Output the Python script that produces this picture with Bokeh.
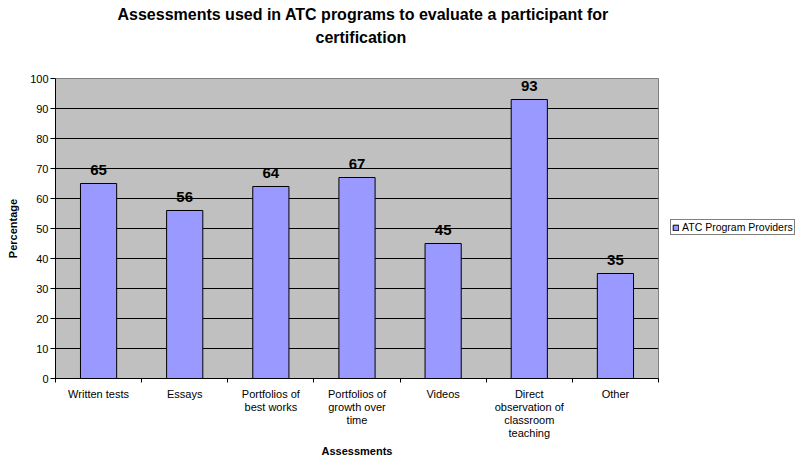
from bokeh.plotting import figure
from bokeh.layouts import row
from bokeh.models import Range1d, FixedTicker, Legend, LegendItem, Title, ColumnDataSource
from bokeh.embed import file_html
from bokeh.resources import INLINE

# ---- data ----
categories = [
    "Written tests",
    "Essays",
    "Portfolios of\nbest works",
    "Portfolios of\ngrowth over\ntime",
    "Videos",
    "Direct\nobservation of\nclassroom\nteaching",
    "Other",
]
values = [65, 56, 64, 67, 45, 93, 35]
value_labels = ["65", "56", "64", "67", "45", "93", "35"]
y_ticks = [0, 10, 20, 30, 40, 50, 60, 70, 80, 90, 100]
series_name = "ATC Program Providers"
title_line1 = "Assessments used in ATC programs to evaluate a participant for"
title_line2 = "certification"
x_title = "Assessments"
y_title = "Percentage"

FONT = "Liberation Sans"
BAR_FILL = "#9999FF"
n = len(categories)
xs = [i + 0.5 for i in range(n)]
src = ColumnDataSource(dict(x=xs, top=values, lab=value_labels))

p = figure(width=660, height=464, output_backend="svg", toolbar_location=None,
           x_range=Range1d(0, n), y_range=Range1d(y_ticks[0], y_ticks[-1]),
           min_border_left=55, min_border_right=2, min_border_top=78,
           min_border_bottom=86)

p.background_fill_color = "#C0C0C0"
p.border_fill_color = "white"
p.outline_line_color = "#808080"
p.outline_line_width = 1

# titles (spacer nearest the frame, then line 2, then line 1 outermost)
spacer = Title(text=" ", text_font=FONT, text_font_size="2px", standoff=27)
p.add_layout(spacer, "above")
t2 = Title(text=title_line2, text_font=FONT, text_font_size="16px",
           text_font_style="bold", text_color="black", align="left",
           offset=260, vertical_align="top", standoff=0)
p.add_layout(t2, "above")
p.title.text = title_line1
p.title.text_font = FONT
p.title.text_font_size = "16px"
p.title.text_font_style = "bold"
p.title.text_color = "black"
p.title.align = "left"
p.title.offset = 62
p.title.vertical_align = "top"
p.title.standoff = 7

bars = p.vbar(x="x", top="top", width=0.42, bottom=0, source=src,
              fill_color=BAR_FILL, line_color="black", line_width=1)

p.text(x="x", y="top", text="lab", source=src, text_align="center",
       text_baseline="alphabetic", y_offset=-14, text_font_size="15px",
       text_font_style="bold", text_font={"value": FONT}, text_color="black")

# grid
p.xgrid.visible = False
p.ygrid.ticker = FixedTicker(ticks=y_ticks[1:-1])
p.ygrid.grid_line_color = "black"
p.ygrid.grid_line_width = 1

# x axis
xa = p.xaxis[0]
xa.ticker = FixedTicker(ticks=xs, minor_ticks=list(range(n + 1)))
xa.major_label_overrides = {x: c for x, c in zip(xs, categories)}
xa.major_tick_in = 0
xa.major_tick_out = 0
xa.minor_tick_in = 0
xa.minor_tick_out = 4
xa.minor_tick_line_color = "black"
xa.axis_line_color = "black"
xa.major_label_text_font = FONT
xa.major_label_text_font_size = "11px"
xa.major_label_text_color = "black"
xa.major_label_text_line_height = 1.11
xa.major_label_standoff = 5
xa.axis_label = x_title
xa.axis_label_text_font = FONT
xa.axis_label_text_font_size = "11px"
xa.axis_label_text_font_style = "bold"
xa.axis_label_text_color = "black"
xa.axis_label_standoff = 3

# y axis
ya = p.yaxis[0]
ya.ticker = FixedTicker(ticks=y_ticks)
ya.major_tick_in = 0
ya.major_tick_out = 5
ya.minor_tick_line_color = None
ya.axis_line_color = "black"
ya.major_label_text_font = FONT
ya.major_label_text_font_size = "11px"
ya.major_label_text_color = "black"
ya.major_label_standoff = 2
ya.axis_label = y_title
ya.axis_label_text_font = FONT
ya.axis_label_text_font_size = "11px"
ya.axis_label_text_font_style = "bold"
ya.axis_label_text_color = "black"
ya.axis_label_standoff = 8

# legend panel (separate figure to the right of the chart; its frame is
# aligned with the chart's frame by the row layout)
lf = figure(width=143, height=464, output_backend="svg", toolbar_location=None,
            x_range=Range1d(-10, -9), y_range=Range1d(-10, -9), min_border=0,
            x_axis_location=None, y_axis_location=None)
lf.grid.visible = False
lf.outline_line_color = None
lf.background_fill_color = "white"
lf.border_fill_color = "white"
lr = lf.vbar(x="x", top="top", width=0.42, bottom=0, source=src,
             fill_color=BAR_FILL, line_color="black", line_width=1)
legend = Legend(items=[LegendItem(label=series_name, renderers=[lr])],
                location=(10, 143), orientation="vertical",
                padding=1, spacing=0, margin=0, label_standoff=3,
                glyph_width=7, glyph_height=7, label_height=9,
                label_text_font=FONT, label_text_font_size="10.5px",
                label_text_color="black",
                border_line_color="black", border_line_width=1,
                background_fill_color="white", background_fill_alpha=1)
lf.add_layout(legend)

layout = row(p, lf, spacing=0)
open("out.html", "w").write(file_html(layout, INLINE))
